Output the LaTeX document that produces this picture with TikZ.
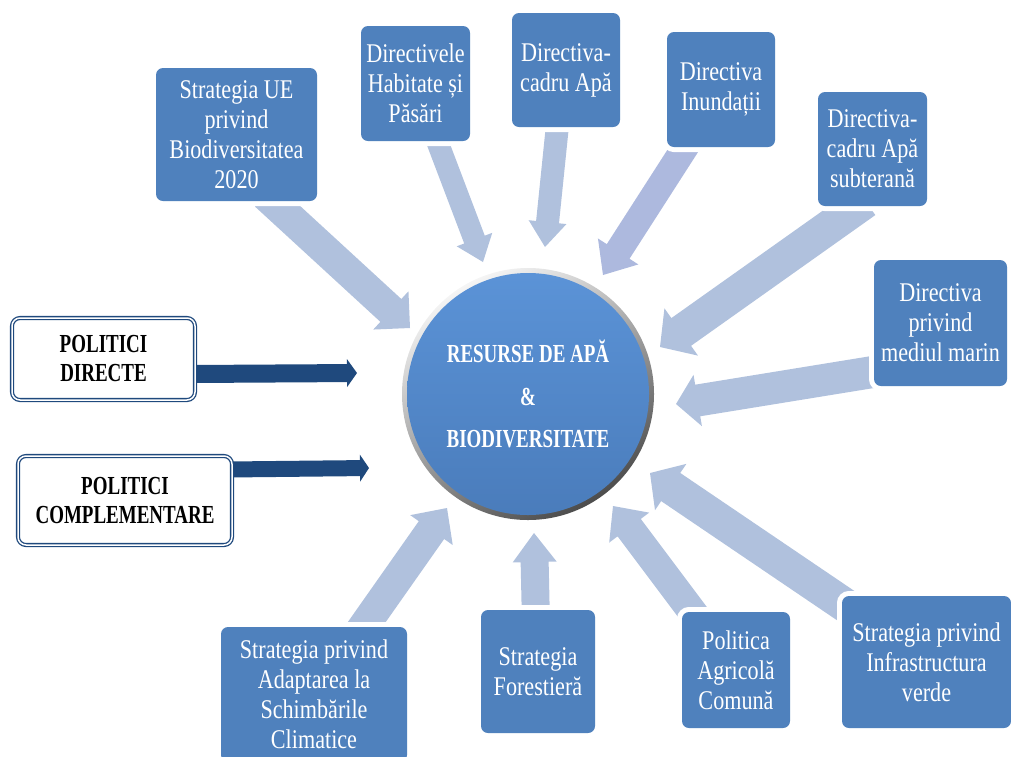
\documentclass[tikz,border=0pt]{standalone}
\usepackage{fontspec}
\setmainfont{Liberation Serif}[FakeStretch=0.82]
\newfontfamily\narrowbf{Liberation Serif}[FakeStretch=0.73]
\usetikzlibrary{calc,backgrounds}
\definecolor{boxblue}{HTML}{4F81BD}
\definecolor{arrowblue}{HTML}{B0C1DD}
\definecolor{arrowlilac}{HTML}{ADB9DE}
\definecolor{polblue}{HTML}{1F497D}
\definecolor{discA}{HTML}{5B93D7}
\definecolor{discB}{HTML}{4A7CBB}
\tikzset{
  policy/.style={rounded corners=7pt,fill=boxblue,preaction={draw=white,line width=10pt},
    text=white,align=center,inner sep=0pt,font=\fontsize{27}{30}\selectfont},
  polbox/.style={rounded corners=8pt,fill=white,draw=polblue,double=white,double distance=1.5pt,
    line width=1.3pt,align=center,inner sep=0pt,font=\narrowbf\bfseries\fontsize{26}{29}\selectfont}
}
\begin{document}
\begin{tikzpicture}[x=1pt,y=-1pt]
    \useasboundingbox (0,0) rectangle (1011,756);
    % centre disc
    \node (res) at (528,394)[circle,minimum size=252pt,inner sep=0pt,top color=gray!8,bottom color=black!70,shading angle=30]{};
    \shade[top color=discA,bottom color=discB] (res.center) circle (121pt);
    \node (restext) at (res.center)[text=white,align=center,font=\narrowbf\bfseries\fontsize{26}{42.5}\selectfont]{RESURSE DE APĂ\\\&\\BIODIVERSITATE};
    % policy boxes
    \node (bio) at (236.5,134.5)[policy,minimum width=161pt,minimum height=133pt]{Strategia UE\\privind\\Biodiversitatea\\2020};
    \node (habitat) at (415.5,83.5)[policy,minimum width=109pt,minimum height=115pt]{Directivele\\Habitate și\\Păsări};
    \node (apa) at (566,70)[policy,minimum width=108pt,minimum height=114pt]{Directiva-\\cadru Apă};
    \node (inund) at (721,89.5)[policy,minimum width=108pt,minimum height=115pt]{Directiva\\Inundații};
    \node (subter) at (872.5,149)[policy,minimum width=109pt,minimum height=114pt]{Directiva-\\cadru Apă\\subterană};
    \node (marin) at (940.5,323)[policy,minimum width=133pt,minimum height=126pt]{Directiva\\privind\\mediul marin};
    \node (verde) at (926.5,662)[policy,minimum width=169pt,minimum height=132pt]{Strategia privind\\Infrastructura\\verde};
    \node (agri) at (736,670)[policy,minimum width=108pt,minimum height=116pt]{Politica\\Agricolă\\Comună};
    \node (forest) at (538,671.5)[policy,minimum width=114pt,minimum height=123pt]{Strategia\\Forestieră};
    \node (adapt) at (314,694.5)[policy,minimum width=186pt,minimum height=135pt]{Strategia privind\\Adaptarea la\\Schimbările\\Climatice};
    \node (pdir) at (103.5,359)[polbox,minimum width=183pt,minimum height=82pt]{POLITICI\\DIRECTE};
    \node (pcompl) at (125,500.5)[polbox,minimum width=214pt,minimum height=89pt]{POLITICI\\COMPLEMENTARE};
    % arrow ends
    \coordinate (t1) at ($(bio.south)+(29,-6)$);       \coordinate (h1) at (410,328);
    \coordinate (t2) at ($(habitat.south)+(19,-7)$);   \coordinate (h2) at (483,262);
    \coordinate (t3) at ($(apa.south)+(-8,-7)$);       \coordinate (h3) at (545,247);
    \coordinate (t4) at ($(inund.south)+(-32,-6)$);    \coordinate (h4) at (603,275);
    \coordinate (t5) at ($(subter.south)+(-7,-5)$);    \coordinate (h5) at (660,347);
    \coordinate (t6) at ($(marin.south west)+(10,-16)$); \coordinate (h6) at (676,404);
    \coordinate (t7) at ($(verde.north west)+(16,18)$); \coordinate (h7) at (650,473);
    \coordinate (t8) at ($(agri.north west)+(21,14)$); \coordinate (h8) at (613,506);
    \coordinate (t9) at ($(forest.north)+(-2,15)$);    \coordinate (h9) at (534,533);
    \coordinate (t10) at ($(adapt.north)+(41,12)$);    \coordinate (h10) at (447,508);
    \coordinate (t11) at ($(pdir.east)+(-5,15)$);      \coordinate (h11) at (357,373);
    \coordinate (t12) at ($(pcompl.east)+(-5,-31)$);   \coordinate (h12) at (369,468);
    \begin{scope}[on background layer]
    \foreach \n/\c/\w/\h/\l in {1/arrowblue/15.5pt/26pt/26pt, 2/arrowblue/11pt/19pt/24pt,
        3/arrowblue/11.5pt/19pt/25pt, 4/arrowlilac/13.5pt/24pt/28pt, 5/arrowblue/17pt/29pt/26pt,
        6/arrowblue/16pt/26pt/22pt, 7/arrowblue/17pt/28pt/25pt, 8/arrowblue/14.5pt/25pt/27pt,
        9/arrowblue/14pt/22pt/29pt, 10/arrowblue/15.5pt/26pt/27pt,
        11/polblue/9pt/14pt/10pt, 12/polblue/8pt/13.5pt/9pt}
    {
        \coordinate (b) at ($(h\n)!\l!(t\n)$);
        \fill[\c] ($(t\n)!\w!90:(h\n)$) -- ($(b)!\w!90:(h\n)$) -- ($(b)!\h!90:(h\n)$) -- (h\n)
            -- ($(b)!\h!-90:(h\n)$) -- ($(b)!\w!-90:(h\n)$) -- ($(t\n)!\w!-90:(h\n)$) -- cycle;
    }
    \end{scope}
\end{tikzpicture}
\end{document}
